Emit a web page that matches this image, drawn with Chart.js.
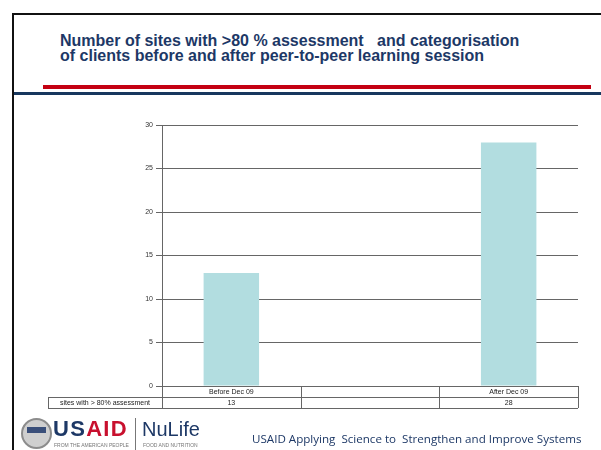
<!DOCTYPE html>
<html>
<head>
<meta charset="utf-8">
<script src="https://cdn.jsdelivr.net/npm/chart.js@4.4.1/dist/chart.umd.min.js"></script>
<style>
    body { margin: 0; width: 601px; height: 450px; background: #fff; overflow: hidden; position: relative; font-family: "Liberation Sans", Arial, sans-serif; }
    .abs { position: absolute; }
    #frameTop { left: 12px; top: 13px; width: 589px; height: 2px; background: #111; }
    #frameLeft { left: 12px; top: 13px; width: 2px; height: 437px; background: #111; }
    #titulo { left: 60px; top: 33px; font-weight: bold; font-size: 16px; line-height: 15px; color: #1d3866; white-space: pre; }
    #linhaVermelha { left: 43px; top: 85px; width: 548px; height: 4px; background: #c40012; }
    #linhaAzul { left: 14px; top: 92px; width: 587px; height: 2.5px; background: #17375e; }
    #caixaGrafico { left: 0; top: 100px; width: 601px; height: 320px; }
    #selo { left: 21px; top: 418px; width: 27px; height: 27px; border-radius: 50%; border: 2px solid #8c8c8c; background: #cfcfcf; }
    #seloFaixa { left: 27px; top: 427px; width: 19px; height: 6px; background: #3a4f7a; }
    #usaid { left: 53px; top: 416px; font-weight: bold; font-size: 22px; letter-spacing: 1.3px; line-height: 26px; }
    #divisor { left: 135px; top: 418px; width: 1px; height: 32px; background: #777; }
    #nulife { left: 142px; top: 416px; font-size: 20px; line-height: 26px; color: #1d3866; }
    .mini { font-size: 5px; color: #777; white-space: nowrap; }
    #rodape { left: 252px; top: 431px; font-family: "Open Sans", sans-serif; font-size: 11.6px; color: #1d3866; white-space: pre; }
</style>
</head>
<body>
<div class="abs" id="frameTop"></div>
<div class="abs" id="frameLeft"></div>
<div class="abs" id="titulo">Number of sites with &gt;80 % assessment   and categorisation
of clients before and after peer-to-peer learning session</div>
<div class="abs" id="linhaVermelha"></div>
<div class="abs" id="linhaAzul"></div>
<div class="abs" id="caixaGrafico"><canvas id="grafico"></canvas></div>
<div class="abs" id="selo"></div>
<div class="abs" id="seloFaixa"></div>
<div class="abs" id="usaid"><span style="color:#1d3866">US</span><span style="color:#c8102e">AID</span></div>
<div class="abs mini" style="left:54px; top:442px;">FROM THE AMERICAN PEOPLE</div>
<div class="abs" id="divisor"></div>
<div class="abs" id="nulife">NuLife</div>
<div class="abs mini" style="left:143px; top:442px;">FOOD AND NUTRITION</div>
<div class="abs" id="rodape">USAID Applying  Science to  Strengthen and Improve Systems</div>

<script>
// Dados do gráfico
const categorias = ["Before Dec 09", "", "After Dec 09"];
const nomeSerie = "sites with > 80% assessment";
const valores = [13, null, 28];
const textoValores = ["13", "", "28"];

// Tabela de dados desenhada abaixo do eixo x
const tabelaDados = {
    id: "tabelaDados",
    afterDraw(chart) {
        const ctx = chart.ctx;
        const area = chart.chartArea;
        const n = categorias.length;
        const larg = area.width / n;
        const y0 = area.bottom;
        const alt = 11;
        const esq = 48;

        ctx.save();
        ctx.strokeStyle = "#666";
        ctx.lineWidth = 1;
        ctx.beginPath();
        // linhas horizontais
        ctx.moveTo(area.left, y0 + 0.5); ctx.lineTo(area.right, y0 + 0.5);
        ctx.moveTo(esq, y0 + alt + 0.5); ctx.lineTo(area.right, y0 + alt + 0.5);
        ctx.moveTo(esq, y0 + 2 * alt + 0.5); ctx.lineTo(area.right, y0 + 2 * alt + 0.5);
        // linhas verticais
        for (let i = 0; i <= n; i++) {
            const x = Math.round(area.left + i * larg) + 0.5;
            ctx.moveTo(x, y0); ctx.lineTo(x, y0 + 2 * alt);
        }
        ctx.moveTo(esq + 0.5, y0 + alt); ctx.lineTo(esq + 0.5, y0 + 2 * alt);
        ctx.stroke();

        ctx.fillStyle = "#222";
        ctx.font = "7px 'Liberation Sans', Arial, sans-serif";
        ctx.textAlign = "center";
        ctx.textBaseline = "middle";
        for (let i = 0; i < n; i++) {
            const cx = chart.scales.x.getPixelForValue(i);
            ctx.fillText(categorias[i], cx, y0 + alt / 2 + 0.5);
            ctx.fillText(textoValores[i], cx, y0 + alt * 1.5 + 0.5);
        }
        ctx.fillText(nomeSerie, (esq + area.left) / 2, y0 + alt * 1.5 + 0.5);
        ctx.restore();
    }
};

const ctx = document.getElementById("grafico").getContext("2d");
new Chart(ctx, {
    type: "bar",
    data: {
        labels: categorias,
        datasets: [{
            label: nomeSerie,
            data: valores,
            backgroundColor: "#b2dde0",
            borderWidth: 0,
            barPercentage: 0.4,
            categoryPercentage: 1,
        }],
    },
    options: {
        responsive: true,
        maintainAspectRatio: false,
        animation: false,
        layout: {
            padding: { top: 25, right: 23, bottom: 34, left: 0 },
        },
        plugins: {
            legend: { display: false },
            tooltip: { enabled: false },
        },
        scales: {
            x: {
                grid: { display: false },
                border: { display: false },
                ticks: { display: false },
                afterFit(scale) { scale.height = 0; },
            },
            y: {
                min: 0,
                max: 30,
                ticks: {
                    stepSize: 5,
                    color: "#333",
                    padding: 3,
                    font: { size: 7, family: "'Liberation Sans', Arial, sans-serif" },
                },
                grid: { color: "#666", tickLength: 6 },
                border: { color: "#666" },
                afterFit(scale) { scale.width = 162; },
            },
        },
    },
    plugins: [tabelaDados],
});
</script>
</body>
</html>
